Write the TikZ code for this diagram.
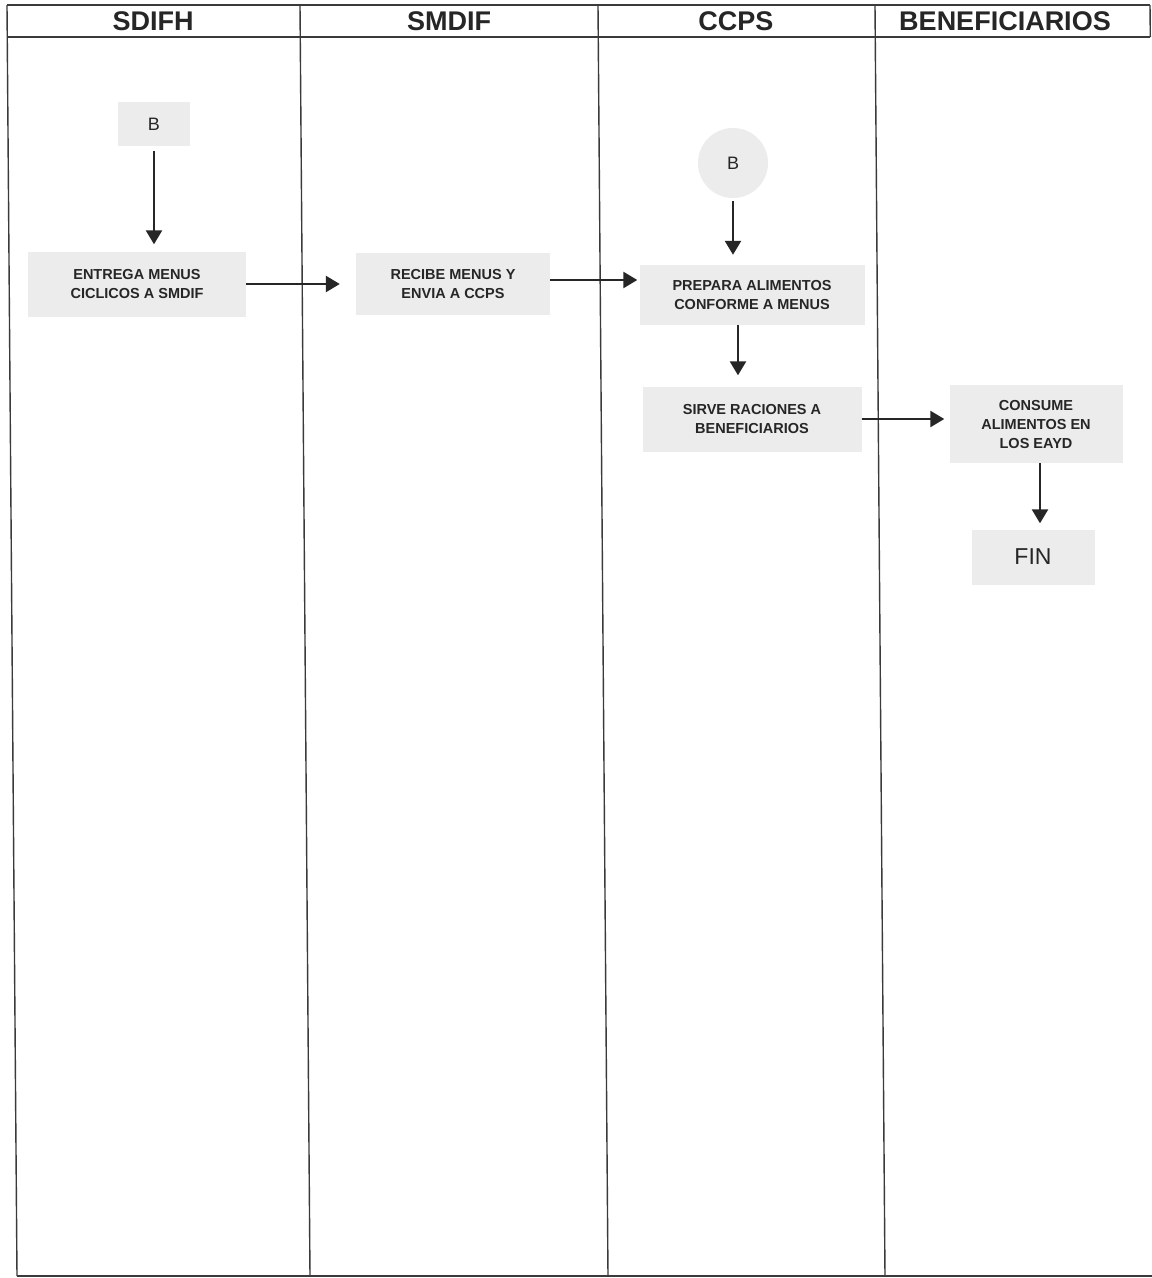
\documentclass[tikz,border=0pt]{standalone}
\usepackage{fontspec}
\setmainfont{Liberation Sans}
\usetikzlibrary{arrows.meta,calc}
\definecolor{boxgray}{HTML}{ECECEC}
\definecolor{lanegray}{HTML}{3A3A3A}
\tikzset{
  lane/.style={draw=lanegray, line width=1.4pt},
  hdr/.style={font=\bfseries\fontsize{27}{29}\selectfont, text=black!85},
  proc/.style={fill=boxgray, draw=none, align=center, inner sep=0pt,
    font=\bfseries\fontsize{14.5}{19}\selectfont, text=black!85},
  conn/.style={fill=boxgray, draw=none, inner sep=0pt,
    font=\fontsize{18}{20}\selectfont, text=black!85},
  arr/.style={draw=black!85, line width=2.4pt, -{Triangle[width=16pt,length=14pt]}},
}
\begin{document}
\begin{tikzpicture}[x=1pt,y=-1pt]
\useasboundingbox (0,0) rectangle (1152,1278);
\fill[white] (0,0) rectangle (1152,1278);
% lanes
\draw[lane] (7,5) -- (1150,5);
\draw[lane] (7,37) -- (1150,37);
\draw[lane] (7,5) -- (17,1276);
\draw[lane] (300,5) -- (310,1276);
\draw[lane] (598,5) -- (608,1276);
\draw[lane] (875,5) -- (885,1276);
\draw[lane] (1150,5) -- (1150.3,37);
\draw[lane] (17,1276) -- (1152,1276);
% headers
\node[hdr] (h1) at (153,21) {SDIFH};
\node[hdr] (h2) at (449,21) {SMDIF};
\node[hdr] (h3) at (736,21) {CCPS};
\node[hdr] (h4) at (1005,21) {BENEFICIARIOS};
% nodes
\node[conn, minimum width=72pt, minimum height=44pt] (b1) at (154,124) {B};
\node[proc, minimum width=218pt, minimum height=65pt] (box1) at (137,284) {ENTREGA MENUS\\CICLICOS A SMDIF};
\node[proc, minimum width=194pt, minimum height=62pt] (box2) at (453,284) {RECIBE MENUS Y\\ENVIA A CCPS};
\node[conn, circle, minimum size=70pt] (b2) at (733,163) {B};
\node[proc, minimum width=225pt, minimum height=60pt] (box3) at (752,295) {PREPARA ALIMENTOS\\CONFORME A MENUS};
\node[proc, minimum width=219pt, minimum height=65pt] (box4) at (752,419) {SIRVE RACIONES A\\BENEFICIARIOS};
\node[proc, minimum width=173pt, minimum height=78pt] (box5) at (1036,424) {CONSUME\\ALIMENTOS EN\\LOS EAYD};
\node[conn, minimum width=123pt, minimum height=55pt, font=\fontsize{23}{25}\selectfont] (fin) at (1033,557) {FIN};
% connectors
\draw[arr, shorten <=5pt, shorten >=7pt] (b1.south) -- (b1.south |- box1.north);
\draw[arr, shorten >=16pt] (box1.east) -- (box1.east -| box2.west);
\draw[arr, shorten >=2pt] ([yshift=4pt]box2.east) -- ([yshift=4pt]box2.east -| box3.west);
\draw[arr, shorten <=3pt, shorten >=10pt] (b2.south) -- (b2.south |- box3.north);
\draw[arr, shorten >=11pt] ([xshift=-14pt]box3.south) -- ([xshift=-14pt]box3.south |- box4.north);
\draw[arr, shorten >=5pt] (box4.east) -- (box4.east -| box5.west);
\draw[arr, shorten >=6pt] ([xshift=4pt]box5.south) -- ([xshift=4pt]box5.south |- fin.north);
\end{tikzpicture}
\end{document}
